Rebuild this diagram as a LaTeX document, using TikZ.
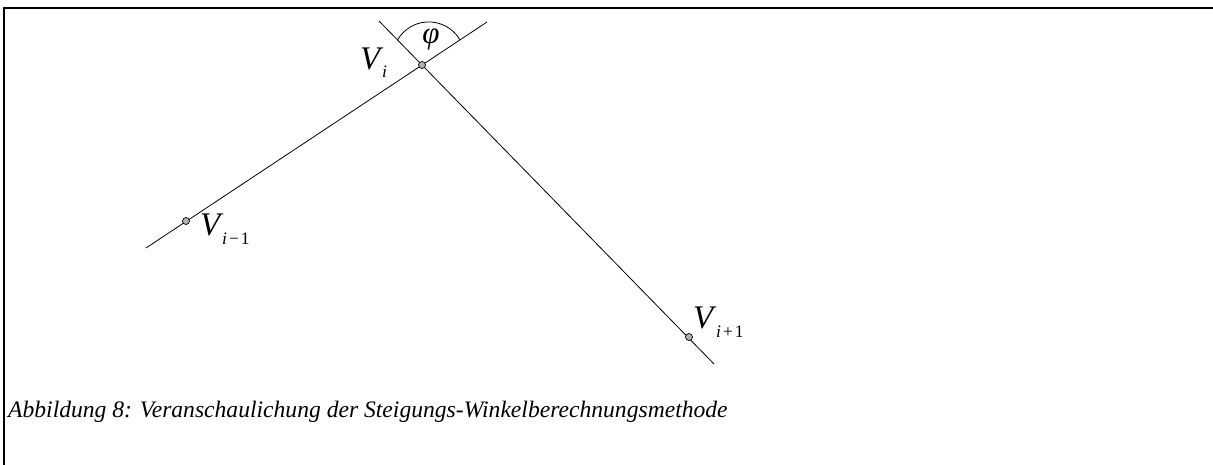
\documentclass[tikz,border=0pt]{standalone}
\usepackage{fontspec}
\setmainfont{Liberation Serif}
\begin{document}
\begin{tikzpicture}[x=1pt,y=-1pt,
  pt/.style={circle,draw,fill=gray!60,minimum size=7pt,inner sep=0pt,line width=0.7pt},
  ln/.style={line width=0.8pt},
  big/.style={inner sep=0pt,font=\fontsize{33}{33}\selectfont\itshape,anchor=base west},
  sub/.style={inner sep=0pt,font=\fontsize{17.5}{17.5}\selectfont,anchor=base west},
  captext/.style={inner sep=0pt,font=\fontsize{23.6}{23.6}\selectfont\itshape,anchor=base west}]
\useasboundingbox (0,0) rectangle (1213,465);
\draw[line width=1.5pt] (4,465) -- (4,8) -- (1213,8);
\coordinate (a1) at (146,248);
\coordinate (a2) at (487,22);
\coordinate (b1) at (379,21);
\coordinate (b2) at (714,364);
\draw[ln] (a1) -- (a2);
\draw[ln] (b1) -- (b2);
\node[pt] (vi) at (422,65) {};
\node[pt] (vim) at (186,221) {};
\node[pt] (vip) at (689,337) {};
\draw[ln] (460,40) arc[start angle=-30, end angle=-150, radius=36.1];
\node[inner sep=0pt,font=\fontsize{31}{31}\selectfont\itshape] (phi) at (431,39) {φ};
\node[big] (l1) at (360,70) {V};
\node[sub] (s1) at (382,78) {\textit{i}};
\node[big] (l2) at (200,236) {V};
\node[sub] (s2) at (222,244) {\textit{i}\kern2pt−\kern2pt1};
\node[big] (l3) at (693,328) {V};
\node[sub] (s3) at (716,337) {\textit{i}\kern2pt+\kern2pt1};
\node[captext] (c) at (8,417) {Abbildung 8: Veranschaulichung der Steigungs-Winkelberechnungsmethode};
\end{tikzpicture}
\end{document}
